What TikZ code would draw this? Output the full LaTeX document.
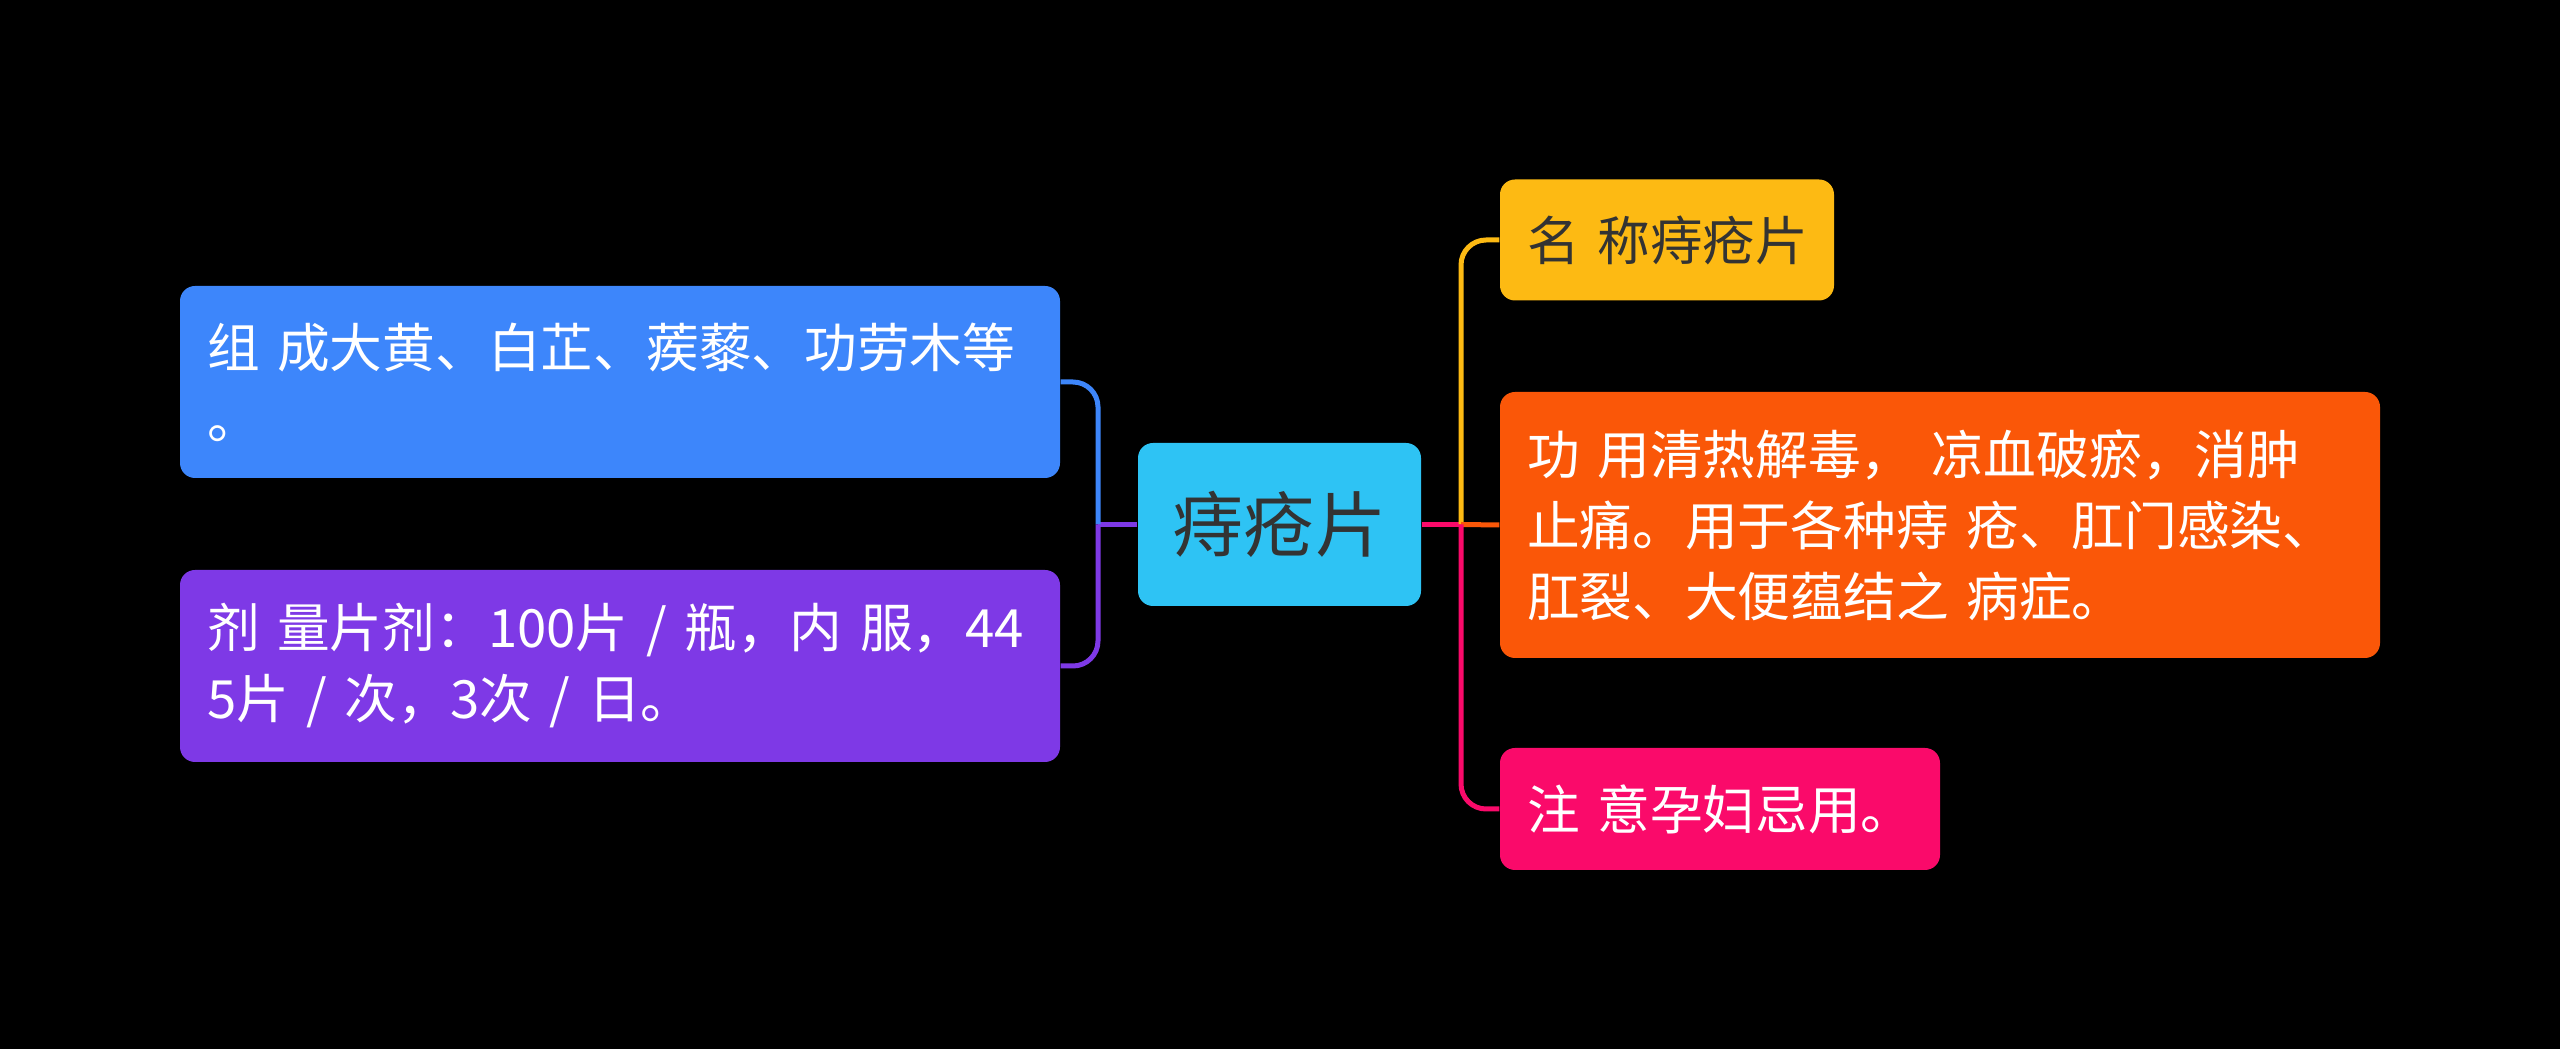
\documentclass[tikz,border=0pt]{standalone}
\usepackage{fontspec}
\usepackage{tikz}
\usetikzlibrary{positioning,calc}
\usepackage{xcolor}
\newfontfamily\cjk{Noto Sans CJK SC}
\definecolor{cblue}{HTML}{3D86FB}
\definecolor{cviolet}{HTML}{7E39E6}
\definecolor{ccyan}{HTML}{2EC3F4}
\definecolor{cyellow}{HTML}{FDBA13}
\definecolor{corange}{HTML}{FA5708}
\definecolor{cpink}{HTML}{FA0A6A}
\definecolor{cdark}{HTML}{333333}

\begin{document}
\begin{tikzpicture}[
    box/.style={rounded corners=0.15cm, inner xsep=0.27cm, inner ysep=0pt, align=left,
        text=white, font={\cjk\fontsize{15pt}{20.2pt}\selectfont}},
    link/.style={line width=0.05cm, rounded corners=0.25cm}]
    \fill[black] (0,0) rectangle (25.6,-10.49);
    % centre topic
    \node[box, fill=ccyan, text=cdark, align=center, text width=2.29cm, minimum height=1.63cm,
        font={\cjk\fontsize{20.3pt}{24pt}\selectfont}] (zhichuang) at (12.795,-5.245) {痔疮片};
    % left branches
    \node[box, fill=cblue, text width=8.26cm, minimum height=1.92cm] (zucheng) at (6.2,-3.82)
        {组 成大黄、白芷、蒺藜、功劳木等\\。};
    \node[box, fill=cviolet, text width=8.26cm, minimum height=1.92cm] (jiliang) at (6.2,-6.66)
        {剂 量片剂：100片 / 瓶，内 服，44\\5片 / 次，3次 / 日。};
    % right branches
    \node[box, fill=cyellow, text=cdark, text width=2.80cm, minimum height=1.21cm] (mingcheng) at (16.67,-2.40)
        {\mbox{名 称痔疮片}};
    \node[box, fill=corange, text width=8.26cm, minimum height=2.66cm] (gongyong) at (19.40,-5.25)
        {功 用清热解毒， 凉血破瘀，消肿\\止痛。用于各种痔 疮、肛门感染、\\肛裂、大便蕴结之 病症。};
    \node[box, fill=cpink, text width=3.86cm, minimum height=1.22cm] (zhuyi) at (17.20,-8.09)
        {\mbox{注 意孕妇忌用。}};
    % connectors
    \coordinate (ltrunk) at (10.98,-5.245);
    \coordinate (rtrunk) at (14.61,-5.245);
    \draw[link, cviolet] (zhichuang.west) -- (ltrunk);
    \draw[link, cblue] (ltrunk) |- (zucheng.east);
    \draw[link, cviolet] (ltrunk) |- (jiliang.east);
    \draw[link, cpink] (zhichuang.east) -- (rtrunk);
    \draw[link, cyellow] (rtrunk) |- (mingcheng.west);
    \draw[link, corange] (rtrunk) -- (gongyong.west);
    \draw[link, cpink] (rtrunk) |- (zhuyi.west);
\end{tikzpicture}
\end{document}
